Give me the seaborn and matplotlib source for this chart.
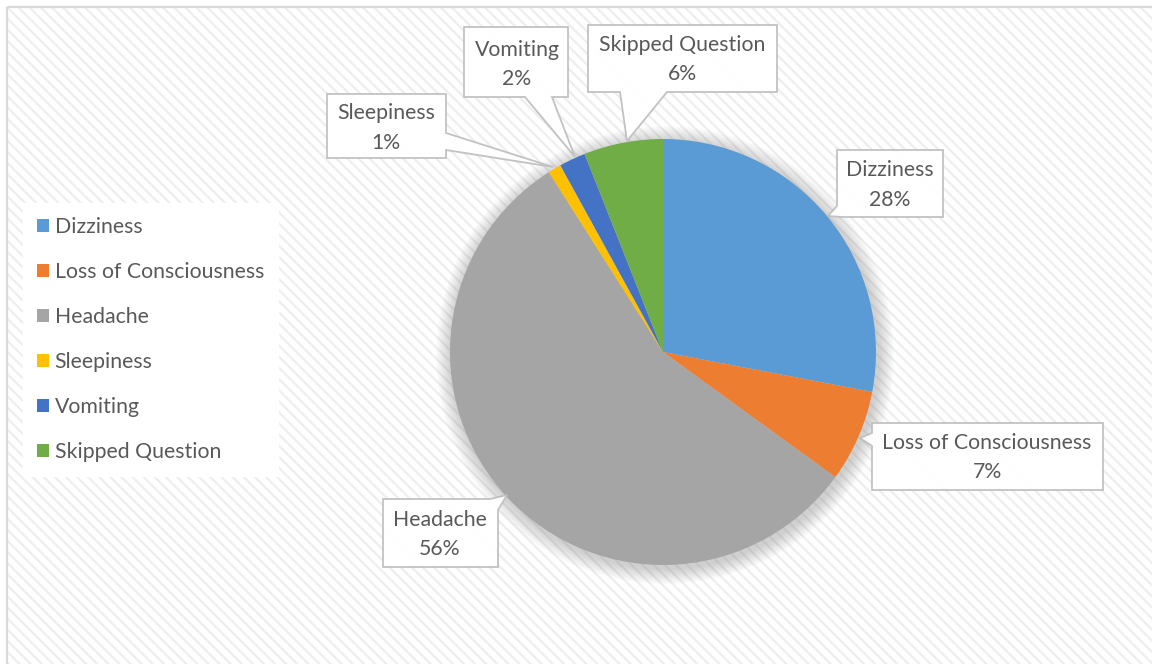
import matplotlib
matplotlib.use("Agg")
import matplotlib.pyplot as plt
import seaborn as sns
from matplotlib.patches import Rectangle, Polygon, Circle, Patch

# ---- data ----
categories = ["Dizziness", "Loss of Consciousness", "Headache", "Sleepiness", "Vomiting", "Skipped Question"]
values = [28, 7, 56, 1, 2, 6]
colors = ["#5B9BD5", "#ED7D31", "#A5A5A5", "#FFC000", "#4472C4", "#70AD47"]

sns.set_theme(style="white")
plt.rcParams['font.family'] = ['Lato', 'DejaVu Sans']
plt.rcParams['hatch.linewidth'] = 1.6

W, H = 1152, 664
fig = plt.figure(figsize=(W / 100, H / 100), dpi=100)
ax = fig.add_axes([0, 0, 1, 1])

def Y(y):
    return H - y

TXT = "#595959"
FS = 15.3

# background with diagonal pattern
bg = Rectangle((8, Y(H + 5)), W, H - 3, facecolor="white", edgecolor="#eeeeee",
               hatch="\\\\\\", linewidth=0, zorder=0)
ax.add_patch(bg)
# frame
ax.plot([7, 7], [Y(7), Y(H + 5)], color="#d9d9d9", lw=1.6, zorder=1, solid_capstyle="butt")
ax.plot([7, W + 5], [Y(7), Y(7)], color="#d9d9d9", lw=1.6, zorder=1, solid_capstyle="butt")

cx, cy, R = 663, 352, 213
# soft shadow
for k in range(16):
    ax.add_patch(Circle((cx + 2, Y(cy + 3)), R + 16 - k, facecolor="#7f7f7f",
                        alpha=0.022, edgecolor="none", zorder=2))

wedges, _ = ax.pie(values, colors=colors, startangle=90, counterclock=False,
                   center=(cx, Y(cy)), radius=R, wedgeprops=dict(linewidth=0))
for w in wedges:
    w.set_zorder(3)

ax.set_xlim(0, W)
ax.set_ylim(0, H)
ax.set_aspect("equal")
ax.axis("off")

total = sum(values)
pcts = [f"{v / total * 100:.0f}%" for v in values]

# callout shapes (pixel coords) and text centres
callouts = {
    "Dizziness": ([(837, 150), (943, 150), (943, 217), (842, 217), (828, 216), (837, 206)], (890, 170), (890, 200)),
    "Loss of Consciousness": ([(872, 423), (1103, 423), (1103, 490), (872, 490), (872, 446), (860, 438), (872, 433)], (987, 443), (987, 472)),
    "Headache": ([(383, 499), (490, 499), (507, 495), (498, 510), (498, 567), (383, 567)], (440, 520), (440, 549)),
    "Sleepiness": ([(327, 94), (446, 94), (446, 133), (553, 167), (446, 150), (446, 158), (327, 158)], (386, 113), (386, 143)),
    "Vomiting": ([(464, 27), (568, 27), (568, 97), (552, 97), (575, 157), (525, 97), (464, 97)], (517, 50), (517, 79)),
    "Skipped Question": ([(588, 25), (777, 25), (777, 92), (667, 92), (627, 141), (620, 92), (588, 92)], (682, 45), (682, 74)),
}
for cat, pct in zip(categories, pcts):
    pts, p1, p2 = callouts[cat]
    ax.add_patch(Polygon([(x, Y(y)) for x, y in pts], closed=True, facecolor="white",
                         edgecolor="#bfbfbf", linewidth=1.3, alpha=0.95, zorder=5, joinstyle="miter"))
    ax.text(p1[0], Y(p1[1]), cat, ha="center", va="center", fontsize=FS, color=TXT, zorder=6)
    ax.text(p2[0], Y(p2[1]), pct, ha="center", va="center", fontsize=FS, color=TXT, zorder=6)

# legend
handles = [Patch(facecolor=c, edgecolor="none") for c in colors]
leg = ax.legend(handles, categories, loc="upper left", bbox_to_anchor=(23 / W, 1 - 203 / H),
                bbox_transform=fig.transFigure, fontsize=FS, frameon=True, fancybox=False,
                handlelength=0.57, handleheight=0.57, handletextpad=0.28, labelspacing=1.18,
                borderpad=0.64, borderaxespad=0)
leg.get_frame().set_facecolor("white")
leg.get_frame().set_edgecolor("white")
leg.get_frame().set_alpha(1)
for t in leg.get_texts():
    t.set_color(TXT)
leg.set_zorder(6)

fig.savefig("out.png", dpi=100)
